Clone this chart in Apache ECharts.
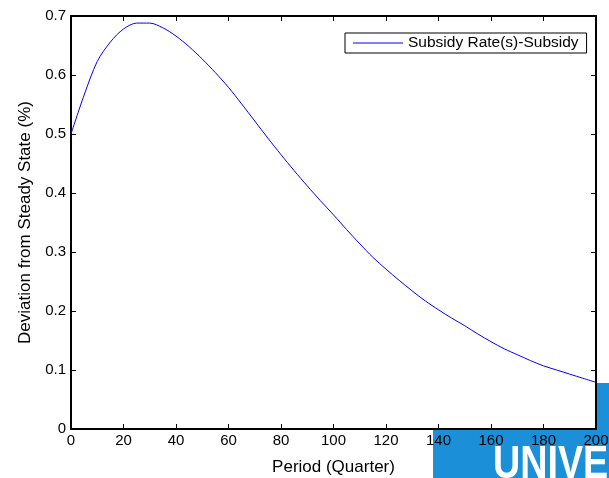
<!DOCTYPE html>
<html>
<head>
<meta charset="utf-8">
<script src="https://cdn.jsdelivr.net/npm/echarts@6/dist/echarts.min.js"></script>
<style>
  html, body { margin: 0; padding: 0; background: #fff; }
  #chart { width: 609px; height: 478px; }
</style>
</head>
<body>
<div id="chart"></div>
<script>
// Impulse response of the subsidy rate to a subsidy shock (quarters 0..200)
const periods = [0, 5, 10, 15, 20, 25, 30, 35, 40, 45, 50, 55, 60, 65, 70, 75, 80, 85, 90, 95, 100,
                 105, 110, 115, 120, 125, 130, 135, 140, 145, 150, 155, 160, 165, 170, 175, 180, 185, 190, 195, 200];
const subsidyRate = [0.500, 0.566, 0.623, 0.656, 0.678, 0.688, 0.688, 0.680, 0.666, 0.648, 0.627,
                     0.604, 0.579, 0.551, 0.522, 0.493, 0.465, 0.438, 0.412, 0.387, 0.363,
                     0.338, 0.314, 0.291, 0.271, 0.252, 0.234, 0.217, 0.202, 0.188, 0.175,
                     0.161, 0.148, 0.136, 0.126, 0.116, 0.107, 0.100, 0.093, 0.086, 0.079];
const seriesName = 'Subsidy Rate(s)-Subsidy';
const xTicks = { min: 0, max: 200, interval: 20 };
const yTicks = { min: 0, max: 0.7, interval: 0.1 };

const FONT = 'Liberation Sans, Arial, sans-serif';
const chart = echarts.init(document.getElementById('chart'), null, { renderer: 'canvas' });

const boxLine = { show: true, onZero: false, lineStyle: { color: '#000', width: 2 } };
const inTick = { show: true, inside: true, length: 5, lineStyle: { color: '#000', width: 1 } };

chart.setOption({
  animation: false,
  backgroundColor: '#fff',
  grid: { left: 71, top: 16, width: 525, height: 413, containLabel: false, outerBoundsMode: 'none' },
  graphic: [
    { type: 'rect', z: -10, shape: { x: 433, y: 383, width: 176, height: 95 }, style: { fill: '#1b8fd8' } },
    { type: 'rect', z: -5, shape: { x: 0, y: 0, width: 597, height: 430 }, style: { fill: '#fff' } },
    { type: 'rect', z: -5, shape: { x: 0, y: 0, width: 433, height: 478 }, style: { fill: '#fff' } },
    { type: 'text', z: -4, left: 493, top: 442, style: { text: 'UNIVE', fill: '#fff', font: 'bold 46px ' + FONT }, scaleX: 0.82, originX: 493 }
  ],
  legend: {
    left: 345, top: 33,
    padding: [2, 8, 2, 8],
    borderColor: '#000', borderWidth: 1, borderRadius: 0,
    backgroundColor: '#fff',
    itemWidth: 50, itemHeight: 1, itemGap: 4,
    icon: 'rect',
    textStyle: { fontFamily: FONT, fontSize: 15.5, color: '#000', lineHeight: 15 },
    data: [seriesName]
  },
  xAxis: [
    {
      type: 'value', position: 'bottom', min: xTicks.min, max: xTicks.max, interval: xTicks.interval,
      name: 'Period (Quarter)', nameLocation: 'middle', nameGap: 30,
      nameTextStyle: { fontFamily: FONT, fontSize: 17, color: '#000' },
      axisLine: boxLine, axisTick: inTick,
      axisLabel: { fontFamily: FONT, fontSize: 15, color: '#000', margin: 4 },
      splitLine: { show: false }
    },
    {
      type: 'value', position: 'top', min: xTicks.min, max: xTicks.max, interval: xTicks.interval,
      axisLine: boxLine, axisTick: inTick, axisLabel: { show: false }, splitLine: { show: false }
    }
  ],
  yAxis: [
    {
      type: 'value', position: 'left', min: yTicks.min, max: yTicks.max, interval: yTicks.interval,
      name: 'Deviation from Steady State (%)', nameLocation: 'middle', nameGap: 34,
      nameTextStyle: { fontFamily: FONT, fontSize: 17, color: '#000' },
      axisLine: boxLine, axisTick: inTick,
      axisLabel: {
        fontFamily: FONT, fontSize: 15, color: '#000', margin: 5,
        formatter: v => (v === 0 ? '0' : v.toFixed(1))
      },
      splitLine: { show: false }
    },
    {
      type: 'value', position: 'right', min: yTicks.min, max: yTicks.max, interval: yTicks.interval,
      axisLine: boxLine, axisTick: inTick, axisLabel: { show: false }, splitLine: { show: false }
    }
  ],
  series: [
    {
      name: seriesName,
      type: 'line',
      xAxisIndex: 0, yAxisIndex: 0,
      data: periods.map((p, i) => [p, subsidyRate[i]]),
      symbol: 'none',
      smooth: 0.3,
      lineStyle: { color: '#0000ff', width: 1 },
      itemStyle: { color: '#0000ff' }
    }
  ]
});
</script>
</body>
</html>
